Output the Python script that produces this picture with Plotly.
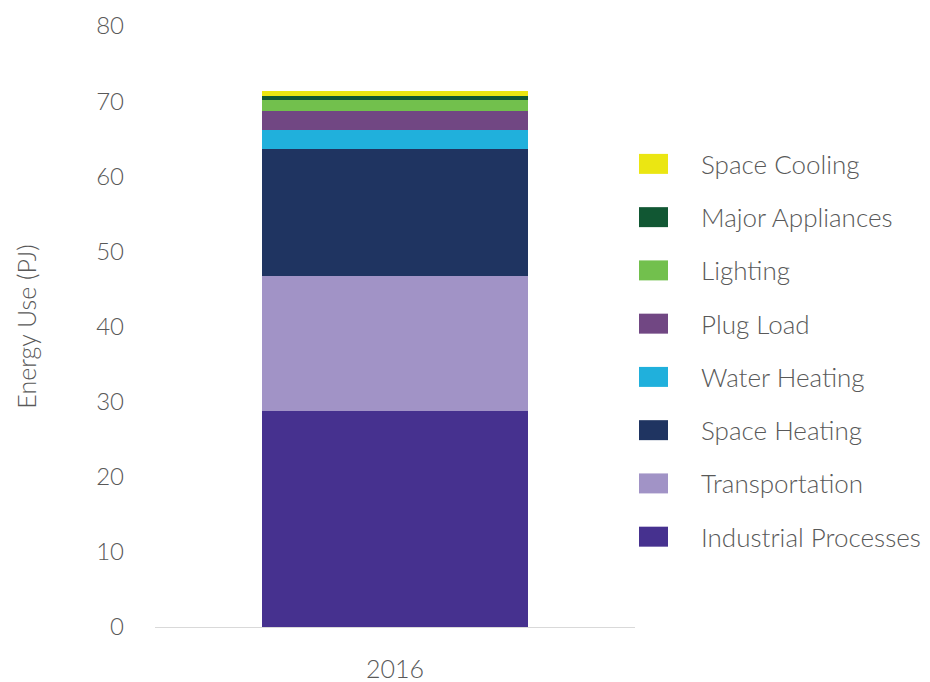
import plotly.graph_objects as go

years = ["2016"]
series_names = ["Industrial Processes", "Transportation", "Space Heating", "Water Heating",
                "Plug Load", "Lighting", "Major Appliances", "Space Cooling"]
industrial = [28.7]
transportation = [18.0]
space_heating = [16.9]
water_heating = [2.5]
plug_load = [2.65]
lighting = [1.35]
major_appliances = [0.55]
space_cooling = [0.65]
y_ticks = [0, 10, 20, 30, 40, 50, 60, 70, 80]

values = [industrial, transportation, space_heating, water_heating,
          plug_load, lighting, major_appliances, space_cooling]
colors = ["#46318f", "#a193c6", "#1f3461", "#20b0dc",
          "#714783", "#72c04d", "#115733", "#ebe612"]

# page body has an 8px margin in the browser
OFF = 8
W, H = 930 - OFF, 682 - OFF
ml, mt = 155 - OFF, 26 - OFF
pw, ph = 480, 601.5
mr = W - ml - pw
mb = H - mt - ph
FONT = "Lato"
TXT = "#595959"

fig = go.Figure()
for name, vals, col in zip(series_names, values, colors):
    fig.add_trace(go.Bar(x=years, y=vals, name=name, marker=dict(color=col, line=dict(width=0)),
                         showlegend=False))

# custom legend (large swatches) built from series names/colours
def px_to_paper_x(px):
    return (px - OFF - ml) / pw

def px_to_paper_y(py):
    return (mt + ph - (py - OFF)) / ph

top_center = 164
step = 53.3
shapes = []
annotations = []
for i, (name, col) in enumerate(reversed(list(zip(series_names, colors)))):
    cy = top_center + i * step
    shapes.append(dict(type="rect", xref="paper", yref="paper",
                       x0=px_to_paper_x(639), x1=px_to_paper_x(668),
                       y0=px_to_paper_y(cy + 10), y1=px_to_paper_y(cy - 10),
                       fillcolor=col, line=dict(width=0)))
    annotations.append(dict(xref="paper", yref="paper", x=px_to_paper_x(699), y=px_to_paper_y(cy),
                            xanchor="left", yanchor="middle", text=name, showarrow=False,
                            font=dict(family=FONT, size=26, color=TXT, weight=300)))

fig.update_layout(
    width=W, height=H,
    margin=dict(l=ml, r=mr, t=mt, b=mb, autoexpand=False),
    barmode="stack",
    bargap=0.446,
    plot_bgcolor="white", paper_bgcolor="white",
    font=dict(family=FONT, color=TXT, size=24, weight=300),
    shapes=shapes,
    annotations=annotations,
    xaxis=dict(showgrid=False, showline=True, linecolor="#d9d9d9", linewidth=1,
               ticks="", ticklabelstandoff=20, automargin=False,
               tickfont=dict(family=FONT, size=25, color=TXT, weight=300)),
    yaxis=dict(range=[0, 80], tickvals=y_ticks, showgrid=False, zeroline=False, showline=False,
               ticks="", ticklabelstandoff=30, automargin=False,
               tickfont=dict(family=FONT, size=24, color=TXT, weight=300),
               title=dict(text="Energy Use (PJ)", standoff=52,
                          font=dict(family=FONT, size=25, color=TXT, weight=300))),
)

fig.write_html("out.html")
